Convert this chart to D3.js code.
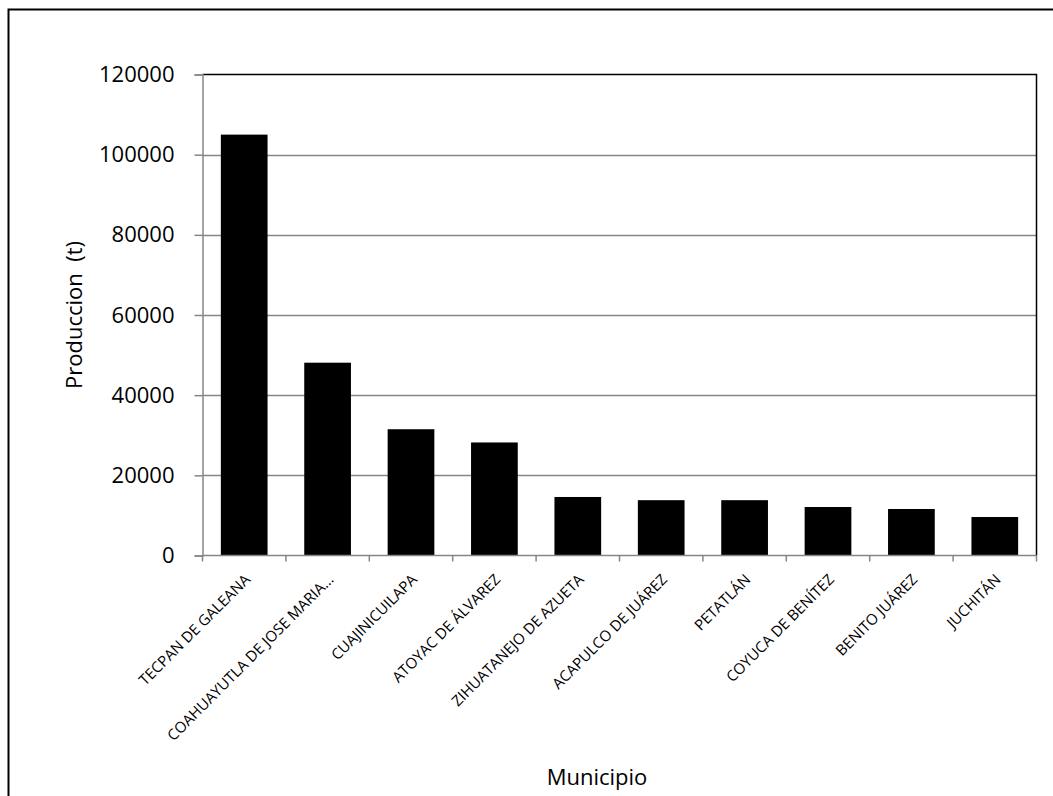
<!DOCTYPE html>
<html>
<head>
<meta charset="utf-8">
<script src="https://cdn.jsdelivr.net/npm/d3@7"></script>
<style>
  html, body { margin: 0; padding: 0; background: #fff; }
  svg { display: block; }
  text { font-family: "Open Sans", "Noto Sans", sans-serif; fill: #000; }
</style>
</head>
<body>
<svg id="chart" width="1053" height="796"></svg>
<script>
// Producción por municipio (toneladas)
const municipios = [
  "TECPAN DE GALEANA",
  "COAHUAYUTLA DE JOSE MARIA...",
  "CUAJINICUILAPA",
  "ATOYAC DE ÁLVAREZ",
  "ZIHUATANEJO DE AZUETA",
  "ACAPULCO DE JUÁREZ",
  "PETATLÁN",
  "COYUCA DE BENÍTEZ",
  "BENITO JUÁREZ",
  "JUCHITÁN"
];
const produccion = [105000, 48100, 31500, 28200, 14600, 13800, 13800, 12100, 11600, 9600];
const yTicks = [0, 20000, 40000, 60000, 80000, 100000, 120000];

const svg = d3.select("#chart");

const plot = { left: 202.5, right: 1036.5, top: 74.5, bottom: 555.5 };

// outer chart frame (right and bottom edges fall outside the canvas)
svg.append("rect")
  .attr("x", 8.5).attr("y", 9.5)
  .attr("width", 1100).attr("height", 900)
  .attr("fill", "none").attr("stroke", "#000").attr("stroke-width", 2);

const x = d3.scaleBand()
  .domain(municipios)
  .range([plot.left, plot.right])
  .paddingInner(0.44)
  .paddingOuter(0.22);

const y = d3.scaleLinear()
  .domain([0, 120000])
  .range([plot.bottom, plot.top]);

// horizontal gridlines
svg.append("g")
  .selectAll("line")
  .data(yTicks.filter(d => d > 0 && d < 120000))
  .join("line")
  .attr("x1", plot.left).attr("x2", plot.right)
  .attr("y1", d => Math.round(y(d)) + 0.5).attr("y2", d => Math.round(y(d)) + 0.5)
  .attr("stroke", "#868686").attr("stroke-width", 1.5);

// bars
svg.append("g")
  .selectAll("rect")
  .data(produccion)
  .join("rect")
  .attr("x", (d, i) => x(municipios[i]))
  .attr("width", x.bandwidth())
  .attr("y", d => y(d))
  .attr("height", d => y(0) - y(d))
  .attr("fill", "#000");

// plot frame top and right
svg.append("path")
  .attr("d", `M${plot.left},${plot.top}H${plot.right}V${plot.bottom}`)
  .attr("fill", "none").attr("stroke", "#000").attr("stroke-width", 1.5);

// y axis
const yAxis = svg.append("g")
  .attr("transform", `translate(${plot.left},0)`)
  .call(d3.axisLeft(y).tickValues(yTicks).tickSize(8).tickPadding(20).tickFormat(d3.format("d")));
yAxis.select(".domain").attr("stroke", "#868686").attr("stroke-width", 1.5);
yAxis.selectAll(".tick line").attr("stroke", "#868686").attr("stroke-width", 1.5);
yAxis.selectAll(".tick text")
  .attr("font-size", 22)
  .attr("font-family", "'Open Sans', sans-serif")
  .attr("fill", "#000");

// x axis with boundary ticks between categories
const xAxisG = svg.append("g")
  .attr("transform", `translate(0,${plot.bottom})`);
xAxisG.append("line")
  .attr("x1", plot.left).attr("x2", plot.right)
  .attr("stroke", "#868686").attr("stroke-width", 1.5);
const bounds = municipios.map((m, i) => plot.left + i * x.step()).concat([plot.right]);
xAxisG.selectAll("line.tk")
  .data(bounds)
  .join("line")
  .attr("class", "tk")
  .attr("x1", d => d).attr("x2", d => d)
  .attr("y1", 0).attr("y2", 6)
  .attr("stroke", "#868686").attr("stroke-width", 1.5);

xAxisG.selectAll("text.lbl")
  .data(municipios)
  .join("text")
  .attr("class", "lbl")
  .attr("text-anchor", "end")
  .attr("font-size", 15)
  .attr("transform", d => `translate(${x(d) + x.bandwidth() / 2 + 7},${25}) rotate(-45)`)
  .text(d => d);

// axis titles
svg.append("text")
  .attr("transform", `translate(82,315) rotate(-90)`)
  .attr("text-anchor", "middle")
  .attr("font-size", 22)
  .attr("xml:space", "preserve")
  .style("white-space", "pre")
  .text("Produccion  (t)");

svg.append("text")
  .attr("x", 597).attr("y", 785)
  .attr("text-anchor", "middle")
  .attr("font-size", 22)
  .text("Municipio");
</script>
</body>
</html>
